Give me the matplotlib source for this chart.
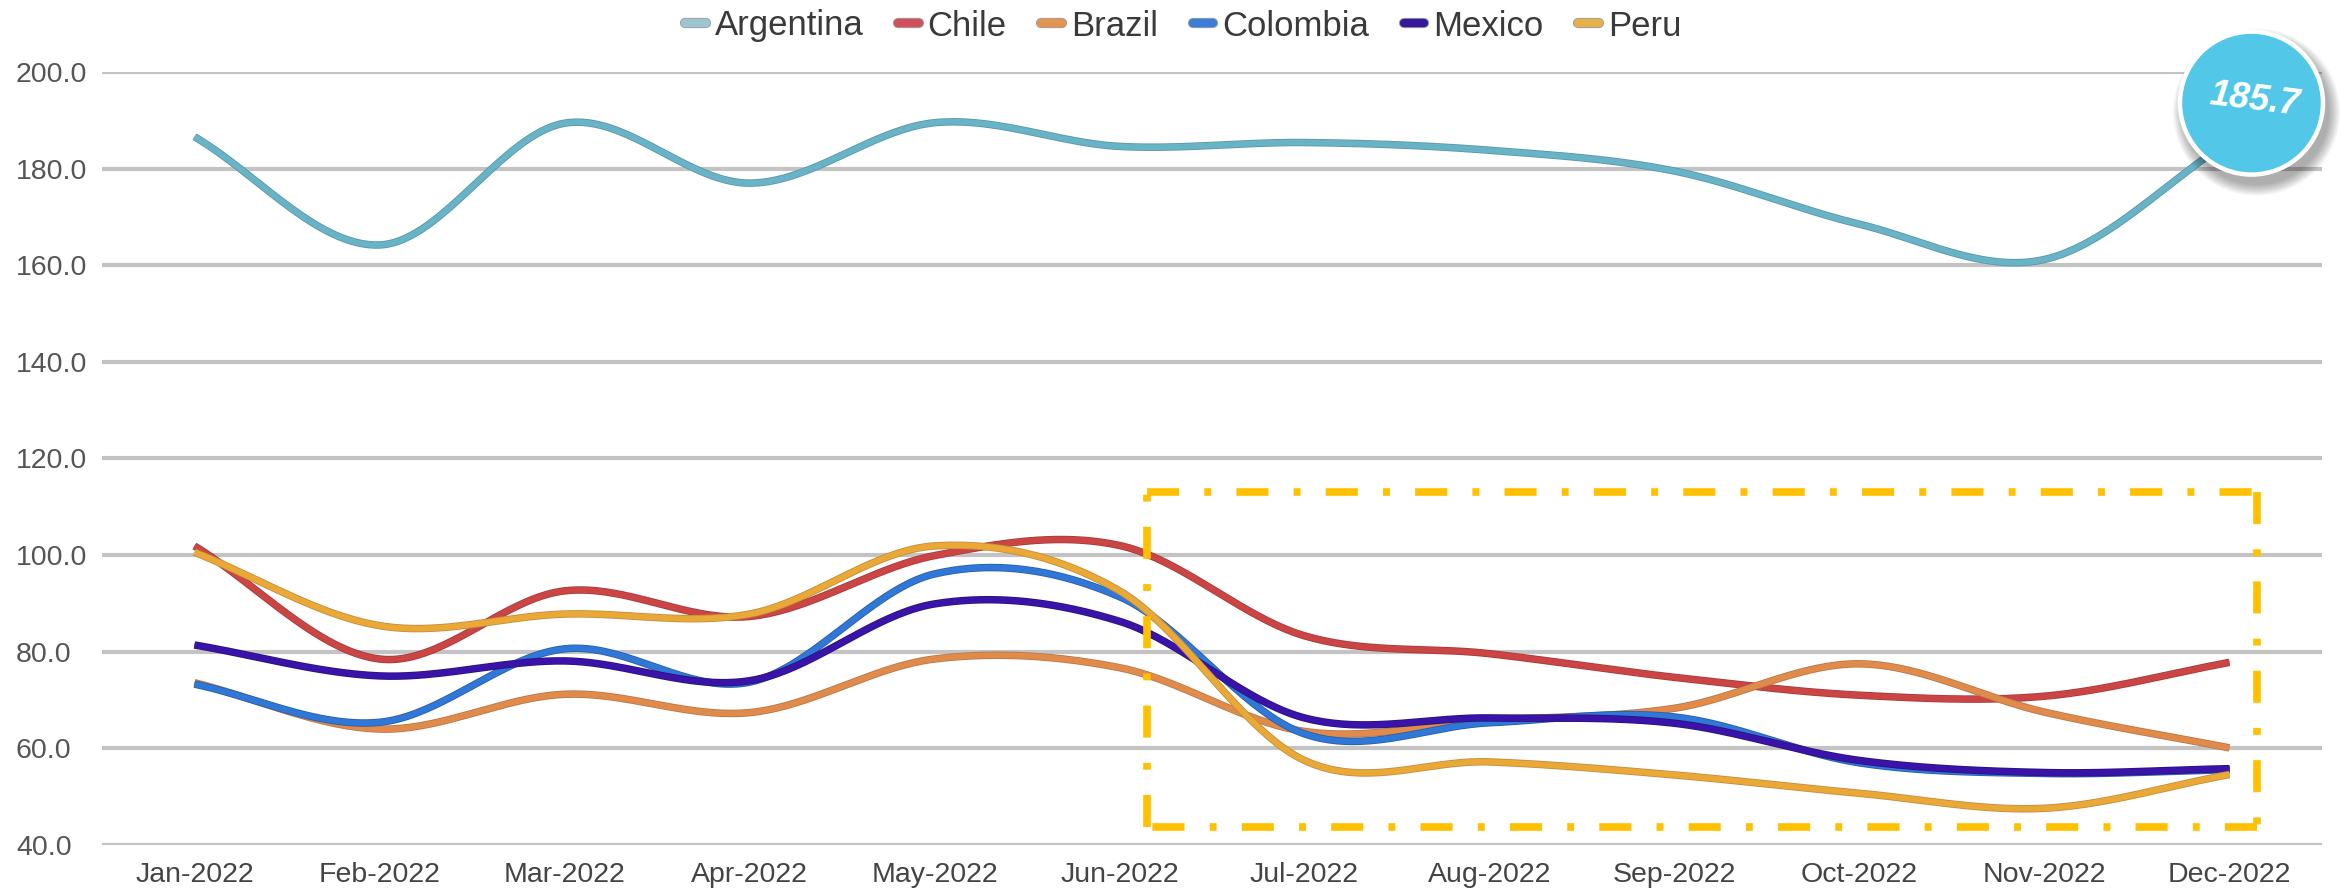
import numpy as np
import matplotlib
matplotlib.use("Agg")
import matplotlib.pyplot as plt
import matplotlib.patheffects as pe
import matplotlib.transforms as mtransforms
from matplotlib.patches import Circle
from matplotlib.lines import Line2D

plt.rcParams["font.family"] = ["Liberation Sans", "DejaVu Sans"]

# ---- data -------------------------------------------------------------
months = ["Jan-2022", "Feb-2022", "Mar-2022", "Apr-2022", "May-2022", "Jun-2022",
          "Jul-2022", "Aug-2022", "Sep-2022", "Oct-2022", "Nov-2022", "Dec-2022"]

argentina = [186.6, 164.2, 189.4, 177.0, 189.5, 184.6, 185.4, 183.8, 179.5, 168.5, 161.2, 185.7]
chile     = [101.9, 78.5, 92.6, 87.3, 99.9, 102.0, 83.3, 79.6, 74.7, 71.0, 70.8, 77.8]
brazil    = [73.6, 64.0, 71.2, 67.4, 78.5, 76.7, 63.5, 65.8, 68.3, 77.5, 67.5, 60.1]
colombia  = [73.3, 65.4, 80.6, 73.7, 96.1, 91.4, 63.0, 65.3, 66.5, 57.0, 54.8, 55.6]
mexico    = [81.4, 75.0, 78.1, 74.0, 89.9, 86.3, 66.3, 66.3, 65.2, 57.5, 55.0, 55.8]
peru      = [100.6, 85.4, 87.8, 87.8, 101.9, 92.6, 57.5, 57.2, 54.5, 50.7, 47.6, 54.6]

series_names = ["Argentina", "Chile", "Brazil", "Colombia", "Mexico", "Peru"]
series_values = [argentina, chile, brazil, colombia, mexico, peru]
line_colors = ["#68b4c6", "#cc4545", "#e08b4a", "#2f78d8", "#3a13a8", "#eaa836"]
edge_colors = ["#5a97a6", "#a53b3b", "#b9774a", "#2b5ea6", "#28137e", "#c18f3f"]
legend_colors = ["#9ec6d2", "#d24f5e", "#e5944f", "#3a7ed8", "#34189e", "#e3b24a"]
# drawing order (later = on top)
draw_order = [0, 1, 2, 4, 3, 5]

y_ticks = [40, 60, 80, 100, 120, 140, 160, 180, 200]

# highlighted period (x in month index, y in value units)
box_x = (5.15, 11.15)
box_y = (43.7, 113.1)


def smooth_curve(values, samples=40):
    """Cubic Hermite curve with Catmull-Rom tangents through each value."""
    y = np.asarray(values, dtype=float)
    n = len(y)
    m = np.empty(n)
    m[1:-1] = (y[2:] - y[:-2]) / 2.0
    m[0] = y[1] - y[0]
    m[-1] = y[-1] - y[-2]
    xs, ys = [], []
    for i in range(n - 1):
        t = np.linspace(0, 1, samples, endpoint=(i == n - 2))
        h00 = 2 * t**3 - 3 * t**2 + 1
        h10 = t**3 - 2 * t**2 + t
        h01 = -2 * t**3 + 3 * t**2
        h11 = t**3 - t**2
        xs.append(i + t)
        ys.append(h00 * y[i] + h10 * m[i] + h01 * y[i + 1] + h11 * m[i + 1])
    return np.concatenate(xs), np.concatenate(ys)


# ---- figure -------------------------------------------------------------
W, H = 2351, 891
fig = plt.figure(figsize=(W / 100, H / 100), dpi=100)
ax = fig.add_axes([102 / W, 1 - 845 / H, (2322 - 102) / W, (845 - 72) / H])

x_idx = np.arange(len(months))
for k in draw_order:
    xs, ys = smooth_curve(series_values[k])
    ax.plot(xs, ys, color=line_colors[k], lw=4.2, solid_capstyle="butt",
            zorder=3 + k,
            path_effects=[pe.Stroke(linewidth=5.4, foreground=edge_colors[k]),
                          pe.Normal()])

ax.set_xlim(-0.5, len(months) - 0.5)
ax.set_ylim(y_ticks[0], y_ticks[-1])
ax.set_xticks(x_idx)
ax.set_xticklabels(months)
ax.set_yticks(y_ticks)
ax.set_yticklabels([f"{v:.1f}" for v in y_ticks])
for lab in ax.get_yticklabels():
    lab.set_horizontalalignment("left")
ax.tick_params(axis="y", length=0, pad=62, labelsize=20.5, labelcolor="#555555")
ax.tick_params(axis="x", length=0, pad=12, labelsize=20.5, labelcolor="#444444")
ax.grid(axis="y", color="#c3c3c3", lw=3.0, zorder=0)
ax.grid(axis="x", visible=False)
ax.set_axisbelow(True)
for s in ax.spines.values():
    s.set_visible(False)

# ---- dash-dot highlight box ---------------------------------------------
box_style = dict(color="#FFC000", lw=5.5, linestyle=(0, (4.2, 3.3, 0.9, 3.3)),
                 dash_capstyle="butt", clip_on=False, zorder=10)
x0, x1 = box_x
y0, y1 = box_y
ax.plot([x0, x1], [y1, y1], **box_style)
ax.plot([x1, x1], [y1, y0], **box_style)
ax.plot([x1, x0], [y0, y0], **box_style)
ax.plot([x0, x0], [y0, y1], **box_style)

# ---- callout bubble on the last Argentina value -------------------------
last_x, last_y = x_idx[-1], argentina[-1]
anchor = fig.dpi_scale_trans + mtransforms.ScaledTranslation(last_x, last_y, ax.transData)
cx, cy, r = 0.22, 0.38, 0.715
for i in range(10):
    ax.add_patch(Circle((cx + 0.05, cy - 0.09), r + 0.012 * (10 - i), transform=anchor,
                        facecolor="#000000", edgecolor="none", alpha=0.035,
                        clip_on=False, zorder=20))
ax.add_patch(Circle((cx, cy), r, transform=anchor, facecolor="#53c7e8",
                    edgecolor="white", lw=3.2, clip_on=False, zorder=21))
ax.text(cx + 0.03, cy + 0.03, f"{last_y:.1f}", transform=anchor, ha="center",
        va="center", rotation=-7, fontsize=26, color="white", fontweight="bold",
        fontstyle="italic", zorder=22, clip_on=False)

# ---- legend -------------------------------------------------------------
handles = [Line2D([0], [0], color=legend_colors[k], lw=6.0, solid_capstyle="round",
                  path_effects=[pe.Stroke(linewidth=7.4, foreground="#a0a0a0"),
                                pe.Normal()])
           for k in range(len(series_names))]
fig.legend(handles, series_names, loc="center", bbox_to_anchor=(1183 / W, 1 - 26 / H),
           ncol=6, frameon=False, fontsize=25, handlelength=0.6, handletextpad=0.25,
           columnspacing=1.0, labelcolor="#3a3a3a", borderaxespad=0, borderpad=0)

fig.savefig("out.png", dpi=100, facecolor="white")
